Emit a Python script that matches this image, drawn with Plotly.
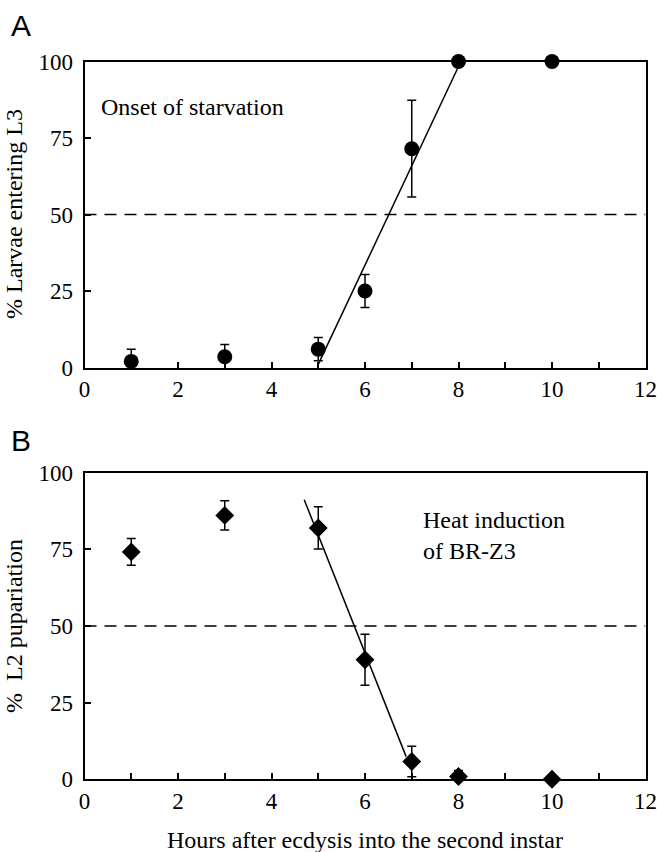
import plotly.graph_objects as go

# ---- data ----
hours = [1, 3, 5, 6, 7, 8, 10]
larvae_L3 = [2, 3.5, 6, 25, 71.5, 100, 100]
larvae_L3_err = [4, 4, 3.8, 5.4, 15.8, 0, 0]
fitA_x = [5.0, 8.05]
fitA_y = [1, 100]

pupariation = [74.2, 86.1, 82.0, 39.0, 5.8, 0.9, 0]
pupariation_err = [4.4, 4.8, 6.9, 8.3, 5.0, 2.0, 0]
fitB_x = [4.7, 6.88]
fitB_y = [91.2, 7.4]

x_ticks = list(range(0, 13))
x_ticktext = [str(v) if v % 2 == 0 else "" for v in x_ticks]
y_ticks = [0, 25, 50, 75, 100]
threshold = 50

SERIF = "Liberation Serif, Times New Roman, serif"
SANS = "Liberation Sans, Arial, sans-serif"
FS_TICK = 23
FS_TEXT = 24

W, H = 657, 852
xdom = [84.5 / W, 645.5 / W]
ydomA = [1 - 367.5 / H, 1 - 61.5 / H]
ydomB = [1 - 779.3 / H, 1 - 472.8 / H]

fig = go.Figure()

# Panel A
fig.add_trace(go.Scatter(x=[0, 12], y=[threshold, threshold], mode="lines",
                         line=dict(color="black", width=1.5, dash="12px,8px"),
                         xaxis="x", yaxis="y", showlegend=False, hoverinfo="skip"))
fig.add_trace(go.Scatter(x=fitA_x, y=fitA_y, mode="lines",
                         line=dict(color="black", width=1.5),
                         xaxis="x", yaxis="y", showlegend=False))
fig.add_trace(go.Scatter(x=hours, y=larvae_L3, mode="markers",
                         marker=dict(symbol="circle", size=15, color="black"),
                         error_y=dict(type="data", array=larvae_L3_err, color="black",
                                      thickness=1.5, width=4.5, visible=True),
                         xaxis="x", yaxis="y", showlegend=False, cliponaxis=False))

# Panel B
fig.add_trace(go.Scatter(x=[0, 12], y=[threshold, threshold], mode="lines",
                         line=dict(color="black", width=1.5, dash="12px,8px"),
                         xaxis="x2", yaxis="y2", showlegend=False, hoverinfo="skip"))
fig.add_trace(go.Scatter(x=fitB_x, y=fitB_y, mode="lines",
                         line=dict(color="black", width=1.5),
                         xaxis="x2", yaxis="y2", showlegend=False))
fig.add_trace(go.Scatter(x=hours, y=pupariation, mode="markers",
                         marker=dict(symbol="diamond", size=14.5, color="black"),
                         error_y=dict(type="data", array=pupariation_err, color="black",
                                      thickness=1.5, width=4.5, visible=True),
                         xaxis="x2", yaxis="y2", showlegend=False, cliponaxis=False))

xaxis_common = dict(range=[0, 12], tickvals=x_ticks, ticktext=x_ticktext,
                    ticks="inside", ticklen=6, tickwidth=1.5, tickcolor="black",
                    showline=True, linecolor="black", linewidth=2, mirror=True,
                    showgrid=False, zeroline=False, automargin=False,
                    tickfont=dict(family=SERIF, size=FS_TICK, color="black"),
                    domain=xdom)
yaxis_common = dict(range=[0, 100], tickvals=y_ticks,
                    ticks="inside", ticklen=6, tickwidth=1.5, tickcolor="black",
                    showline=True, linecolor="black", linewidth=2, mirror=True,
                    showgrid=False, zeroline=False, automargin=False,
                    ticklabelstandoff=5,
                    tickfont=dict(family=SERIF, size=FS_TICK, color="black"))

fig.update_layout(
    template="none",
    width=W, height=H,
    margin=dict(l=0, r=0, t=0, b=0, pad=0),
    paper_bgcolor="white", plot_bgcolor="white",
    xaxis=dict(**xaxis_common, anchor="y"),
    yaxis=dict(**yaxis_common, domain=ydomA, anchor="x"),
    xaxis2=dict(**xaxis_common, anchor="y2"),
    yaxis2=dict(**yaxis_common, domain=ydomB, anchor="x2"),
    annotations=[
        dict(text="A", x=9 / W, y=1 - 25 / H, xref="paper", yref="paper",
             xanchor="left", yanchor="middle", showarrow=False,
             font=dict(family=SANS, size=30, color="black")),
        dict(text="B", x=9 / W, y=1 - 440 / H, xref="paper", yref="paper",
             xanchor="left", yanchor="middle", showarrow=False,
             font=dict(family=SANS, size=30, color="black")),
        dict(text="Onset of starvation", x=0.316, y=85.2, xref="x", yref="y",
             xanchor="left", yanchor="middle", showarrow=False,
             font=dict(family=SERIF, size=FS_TEXT, color="black")),
        dict(text="Heat induction<br>of BR-Z3", x=7.2, y=79.5, xref="x2", yref="y2",
             xanchor="left", yanchor="middle", align="left", showarrow=False,
             font=dict(family=SERIF, size=FS_TEXT, color="black")),
        dict(text="% Larvae entering L3", x=14 / W, y=1 - 214 / H, xref="paper", yref="paper",
             xanchor="center", yanchor="middle", textangle=-90, showarrow=False,
             font=dict(family=SERIF, size=FS_TEXT, color="black")),
        dict(text="%  L2 pupariation", x=14 / W, y=1 - 626 / H, xref="paper", yref="paper",
             xanchor="center", yanchor="middle", textangle=-90, showarrow=False,
             font=dict(family=SERIF, size=FS_TEXT, color="black")),
        dict(text="Hours after ecdysis into the second instar", x=365 / W, y=1 - 840 / H,
             xref="paper", yref="paper", xanchor="center", yanchor="middle", showarrow=False,
             font=dict(family=SERIF, size=FS_TEXT, color="black")),
    ],
)

# remove the default 8px page margin so the 657x852 figure fills the window exactly
fig.write_html("out.html", config={"displayModeBar": False},
               post_script="document.body.style.margin='0px';")
